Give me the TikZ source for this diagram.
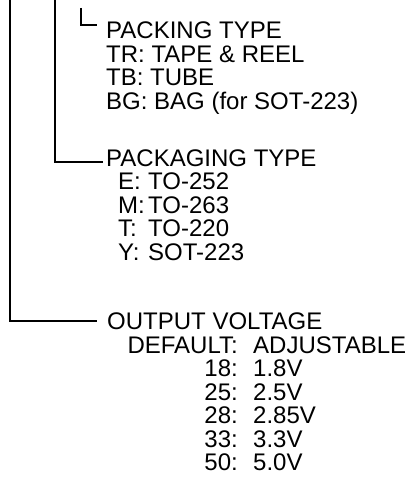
\documentclass[tikz,border=0pt]{standalone}
\usepackage{fontspec}
\setmainfont{Liberation Sans}
\begin{document}
\begin{tikzpicture}[x=1pt,y=-1pt,
    txt/.style={anchor=base west,inner sep=0pt,font=\fontsize{24}{28}\selectfont},
    key/.style={anchor=base east,inner sep=0pt,font=\fontsize{24}{28}\selectfont},
    tree/.style={line width=1.8pt}]
    \useasboundingbox (0,0) rectangle (411,502);
    % packing type block
    \node[txt] (pack) at (106,38.5) {PACKING TYPE};
    \node[txt] (packtr) at (106,62.5) {TR: TAPE \& REEL};
    \node[txt] (packtb) at (106,86) {TB: TUBE};
    \node[txt] (packbg) at (106,109.5) {BG: BAG (for SOT-223)};
    % packaging type block
    \node[txt] (pkg) at (106,166.5) {PACKAGING TYPE};
    \node[txt] (pkge) at (118,189.5) {\makebox[30pt][l]{E:}TO-252};
    \node[txt] (pkgm) at (118,213.5) {\makebox[30pt][l]{M:}TO-263};
    \node[txt] (pkgt) at (118,236.5) {\makebox[30pt][l]{T:}TO-220};
    \node[txt] (pkgy) at (118,260.5) {\makebox[30pt][l]{Y:}SOT-223};
    % output voltage block
    \node[txt] (vout) at (107,329.5) {OUTPUT VOLTAGE};
    \node[key] (kdef) at (238,353.5) {DEFAULT:};
    \node[txt] (vdef) at (253,353.5) {ADJUSTABLE};
    \node[key] (k18) at (238,376.5) {18:};
    \node[txt] (v18) at (253,376.5) {1.8V};
    \node[key] (k25) at (238,400.5) {25:};
    \node[txt] (v25) at (253,400.5) {2.5V};
    \node[key] (k28) at (238,423.5) {28:};
    \node[txt] (v28) at (253,423.5) {2.85V};
    \node[key] (k33) at (238,447.5) {33:};
    \node[txt] (v33) at (253,447.5) {3.3V};
    \node[key] (k50) at (238,470.5) {50:};
    \node[txt] (v50) at (253,470.5) {5.0V};
    % tree lines
    \coordinate (top1) at (10,0);
    \coordinate (top2) at (55,0);
    \coordinate (top3) at (81,8);
    \draw[tree] (top1) |- ([xshift=-10pt]vout.west);
    \draw[tree] (top2) |- ([xshift=-3pt,yshift=-4pt]pkg.west);
    \draw[tree] (top3) |- ([xshift=-9pt,yshift=5pt]pack.west);
\end{tikzpicture}
\end{document}
